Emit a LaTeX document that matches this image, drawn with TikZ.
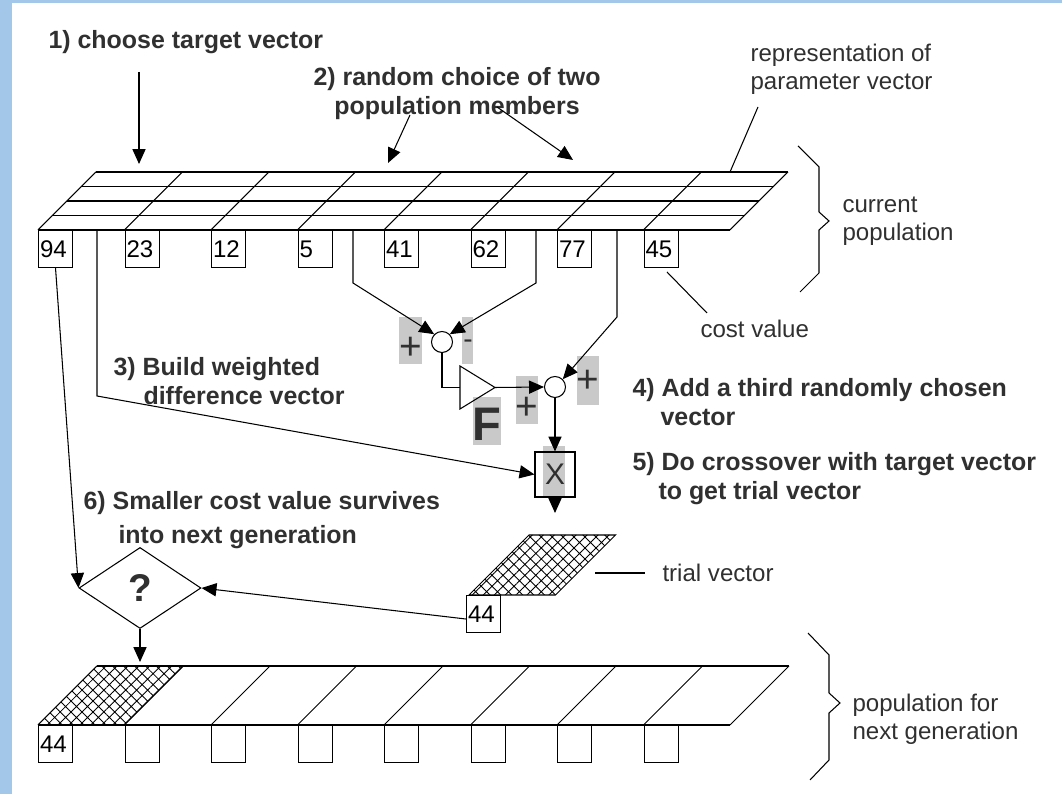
\documentclass[tikz,border=0pt]{standalone}
\usepackage{fontspec}
\setmainfont{Liberation Sans}
\usetikzlibrary{arrows.meta,shapes.geometric,patterns.meta}
\definecolor{frameblue}{HTML}{A3C7E9}
\definecolor{signgray}{HTML}{C9C9C9}
\definecolor{ink}{HTML}{303030}
\tikzset{
  stage/.style={anchor=west, align=left, inner sep=0pt, text=ink, font=\bfseries\fontsize{14.2}{16.5}\selectfont},
  remark/.style={anchor=west, align=left, inner sep=0pt, text=ink, font=\fontsize{13.7}{16}\selectfont},
  cell/.style={draw, anchor=north west, minimum width=0.68cm, minimum height=0.74cm, text width=0.62cm, inner xsep=0.03cm, inner ysep=0pt, align=left, font=\fontsize{13.7}{16}\selectfont},
  sum/.style={draw, circle, minimum size=0.42cm, inner sep=0pt},
  sign/.style={text=ink, inner sep=0pt, font=\fontsize{22}{22}\selectfont},
  arr/.style={-{Triangle[length=8.5pt,width=7.5pt]}},
  hatch/.style={pattern={Hatch[angle=45,distance=4.4pt,line width=0.5pt]}},
}
\begin{document}
\begin{tikzpicture}[line width=0.6pt]
\fill[white] (0,0) rectangle (21.24,15.88);
\fill[frameblue] (0,0) rectangle (0.24,15.88);
\fill[frameblue] (0,15.82) rectangle (21.24,15.88);
\useasboundingbox (0,0) rectangle (21.24,15.88);

% current population
\foreach \k in {0,...,4}
  \draw ({0.76+0.29*\k},{11.28+0.29*\k}) -- ++(13.84,0);
\foreach \i in {0,...,8}
  \draw ({0.76+1.73*\i},11.28) -- ++(1.16,1.16);
\foreach \v [count=\i from 0] in {94,23,12,5,41,62,77,45}
  \node[cell] (b\i) at ({0.76+1.73*\i},11.28) {\v};

% population for next generation
\fill[hatch] (0.76,1.38) -- (2.49,1.38) -- (3.67,2.56) -- (1.94,2.56) -- cycle;
\draw (0.76,1.38) -- ++(13.84,0);
\draw (1.94,2.56) -- ++(13.84,0);
\foreach \i in {0,...,8}
  \draw ({0.76+1.73*\i},1.38) -- ++(1.18,1.18);
\node[cell] (n0) at (0.76,1.38) {44};
\foreach \i in {1,...,7}
  \node[cell] (n\i) at ({0.76+1.73*\i},1.38) {};

% braces
\draw (15.96,12.96) -- (16.38,12.54) -- (16.38,11.64) -- (16.58,11.46) -- (16.38,11.28) -- (16.38,10.42) -- (16.00,10.04);
\draw (16.16,3.22) -- (16.58,2.78) -- (16.58,2.02) -- (16.80,1.82) -- (16.58,1.62) -- (16.58,0.68) -- (16.20,0.28);
\node[remark] (cur) at (16.84,11.46) {current\\population};
\node[remark] (nxt) at (17.04,1.50) {population for\\next generation};

% difference, weighting and adding
\fill[signgray] (7.98,8.60) rectangle (8.44,9.54);
\fill[signgray] (9.24,8.60) rectangle (9.46,9.54);
\fill[signgray] (9.46,6.98) rectangle (10.02,7.94);
\fill[signgray] (10.32,7.40) rectangle (10.76,8.36);
\fill[signgray] (11.54,7.78) rectangle (11.98,8.76);
\fill[signgray] (10.86,5.96) rectangle (11.30,6.96);
\node[sum] (d1) at (8.84,9.04) {};
\node[sum] (d2) at (11.10,8.14) {};
\node[sign] (p1) at (8.22,8.92) {+};
\node[sign, font=\fontsize{16}{16}\selectfont] (m1) at (9.36,9.00) {-};
\node[sign] (p2) at (10.54,7.72) {+};
\node[sign] (p3) at (11.76,8.26) {+};
\node[sign, font=\bfseries\fontsize{26.8}{27}\selectfont] (f) at (9.74,7.40) {F};
\draw (9.20,8.56) -- (9.90,8.13) -- (9.20,7.70) -- cycle;
\coordinate (ampin) at (9.20,8.13);
\coordinate (ampout) at (9.90,8.13);
\node[draw, minimum width=0.80cm, minimum height=0.90cm, text=ink, font=\fontsize{17}{17}\selectfont] (xb) at (11.10,6.39) {X};
\coordinate (xout) at (11.10,5.62);

\coordinate (r0) at (1.94,11.28);
\coordinate (r0b) at (1.94,7.96);
\coordinate (r1) at (7.06,11.28);
\coordinate (r1b) at (7.06,10.22);
\coordinate (r2) at (10.72,11.28);
\coordinate (r2b) at (10.72,10.22);
\coordinate (r3) at (12.34,11.28);
\coordinate (r3b) at (12.34,9.54);
\draw[arr] (r0) -- (r0b) -- (xb.west);
\draw[arr] (r1) -- (r1b) -- (d1.135);
\draw[arr] (r2) -- (r2b) -- (d1.45);
\draw[arr] (r3) -- (r3b) -- (d2.45);
\draw (d1.south) |- (ampin);
\draw[arr] (ampout) -- (d2.west);
\draw[arr] (d2.south) -- (xb.north);
\draw[arr] (xb.south) -- (xout);

% trial vector and selection
\draw[hatch] (9.38,3.98) -- (11.11,3.98) -- (12.31,5.18) -- (10.58,5.18) -- cycle;
\node[cell] (t44) at (9.32,3.98) {44};
\node[draw, diamond, minimum width=2.44cm, minimum height=1.62cm, inner sep=0pt, text=ink, font=\bfseries\fontsize{22}{22}\selectfont] (q) at (2.80,4.12) {?};
\coordinate (qout) at (2.80,2.64);
\draw[arr] ([yshift=-0.1cm]t44.west) -- (q.east);
\draw[arr] (b0.south) -- (q.west);
\draw[arr] (q.south) -- (qout);

% remarks
\node[remark] (rep) at (15.00,14.50) {representation of\\parameter vector};
\node[remark] (cost) at (14.00,9.30) {cost value};
\node[remark] (trial) at (13.24,4.42) {trial vector};
\coordinate (l1) at (15.16,13.74);
\coordinate (l1e) at (14.60,12.44);
\coordinate (l2) at (13.34,10.44);
\coordinate (l2e) at (14.14,9.62);
\coordinate (l3) at (11.90,4.42);
\coordinate (l3e) at (12.90,4.42);
\draw (l1) -- (l1e);
\draw (l2) -- (l2e);
\draw (l3) -- (l3e);

% steps
\node[stage] (s1) at (0.96,15.04) {1) choose target vector};
\node[stage, anchor=center, align=center] (s2) at (9.14,14.01) {2) random choice of two\\population members};
\node[stage] (s3) at (2.26,8.25) {3) Build weighted\\\hspace*{0.6cm}difference vector};
\node[stage] (s4) at (12.64,7.83) {4) Add a third randomly chosen\\\hspace*{0.56cm}vector};
\node[stage] (s5) at (12.64,6.30) {5) Do crossover with target vector\\\hspace*{0.52cm}to get trial vector};
\node[stage, font=\bfseries\fontsize{14.2}{19.3}\selectfont] (s6) at (1.66,5.48) {6) Smaller cost value survives\\\hspace*{0.7cm}into next generation};
\coordinate (a1) at (2.78,14.44);
\coordinate (a1e) at (2.78,12.60);
\coordinate (a2) at (8.20,13.58);
\coordinate (a2e) at (7.76,12.62);
\coordinate (a3) at (9.94,13.74);
\coordinate (a3e) at (11.46,12.68);
\draw[arr] (a1) -- (a1e);
\draw[arr] (a2) -- (a2e);
\draw[arr] (a3) -- (a3e);
\end{tikzpicture}
\end{document}
